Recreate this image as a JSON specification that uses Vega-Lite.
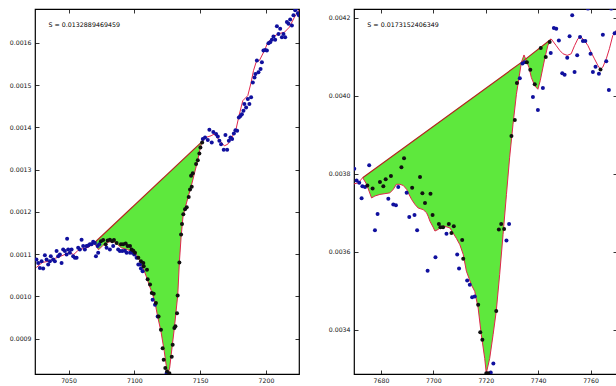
{
 "$schema": "https://vega.github.io/schema/vega-lite/v6.json",
 "padding": {"left": 0, "top": 8, "right": 0, "bottom": 0},
 "spacing": 23,
 "background": "white",
 "config": {
  "view": {"stroke": "#000", "strokeWidth": 1.2},
  "axis": {"labelFont": "DejaVu Sans", "labelFontSize": 6.2, "labelColor": "#111", "tickColor": "#000", "tickSize": -4, "tickWidth": 0.8, "domain": false, "grid": false, "labelFlush": false, "labelOverlap": false, "labelBound": false}
 },
 "datasets": {
  "leftArea": [
   {"x":7069.5,"y":0.001126,"top":0.001126},{"x":7072.8,"y":0.00111,"top":0.0011357},{"x":7076,"y":0.00112,"top":0.001145},{"x":7080,"y":0.001128,"top":0.0011568},{"x":7084,"y":0.00113,"top":0.0011685},{"x":7087,"y":0.001123,"top":0.0011773},{"x":7090,"y":0.001115,"top":0.0011861},{"x":7095,"y":0.00111,"top":0.0012007},{"x":7100,"y":0.001104,"top":0.0012154},{"x":7103,"y":0.001092,"top":0.0012242},{"x":7105,"y":0.001076,"top":0.00123},{"x":7107.5,"y":0.00106,"top":0.0012373},{"x":7109.5,"y":0.001043,"top":0.0012432},{"x":7112,"y":0.00102,"top":0.0012505},{"x":7114,"y":0.001004,"top":0.0012564},{"x":7116,"y":0.00098,"top":0.0012622},{"x":7117.7,"y":0.000952,"top":0.0012672},{"x":7120.2,"y":0.000917,"top":0.0012746},{"x":7122.7,"y":0.00087,"top":0.0012819},{"x":7124.5,"y":0.00083,"top":0.0012871},{"x":7125.5,"y":0.000816,"top":0.0012901},{"x":7126.8,"y":0.00083,"top":0.0012939},{"x":7128,"y":0.000862,"top":0.0012974},{"x":7130.4,"y":0.000925,"top":0.0013044},{"x":7133,"y":0.001004,"top":0.0013121},{"x":7134.2,"y":0.00108,"top":0.0013156},{"x":7135.5,"y":0.00114,"top":0.0013194},{"x":7137,"y":0.00119,"top":0.0013238},{"x":7139,"y":0.001214,"top":0.0013296},{"x":7141.3,"y":0.00124,"top":0.0013364},{"x":7143,"y":0.001258,"top":0.0013414},{"x":7145.6,"y":0.00129,"top":0.001349},{"x":7148,"y":0.00132,"top":0.001356},{"x":7150,"y":0.00135,"top":0.0013619},{"x":7151.4,"y":0.001366,"top":0.001366}
  ],
  "leftChord": [{"x":7069.5,"y":0.001126},{"x":7151.4,"y":0.001366}],
  "leftCurve": [
   {"x":7025.5,"y":0.001068},{"x":7030,"y":0.00108},{"x":7035,"y":0.001083},{"x":7040,"y":0.00109},{"x":7045,"y":0.001096},{"x":7050,"y":0.001103},{"x":7054,"y":0.001099},{"x":7057,"y":0.001108},{"x":7060,"y":0.001112},{"x":7065,"y":0.001116},{"x":7069.5,"y":0.001126},{"x":7072.8,"y":0.00111},{"x":7076,"y":0.00112},{"x":7080,"y":0.001128},{"x":7084,"y":0.00113},{"x":7087,"y":0.001123},{"x":7090,"y":0.001115},{"x":7095,"y":0.00111},{"x":7100,"y":0.001104},{"x":7103,"y":0.001092},{"x":7105,"y":0.001076},{"x":7107.5,"y":0.00106},{"x":7109.5,"y":0.001043},{"x":7112,"y":0.00102},{"x":7114,"y":0.001004},{"x":7116,"y":0.00098},{"x":7117.7,"y":0.000952},{"x":7120.2,"y":0.000917},{"x":7122.7,"y":0.00087},{"x":7124.5,"y":0.00083},{"x":7125.5,"y":0.000816},{"x":7126.8,"y":0.00083},{"x":7128,"y":0.000862},{"x":7130.4,"y":0.000925},{"x":7133,"y":0.001004},{"x":7134.2,"y":0.00108},{"x":7135.5,"y":0.00114},{"x":7137,"y":0.00119},{"x":7139,"y":0.001214},{"x":7141.3,"y":0.00124},{"x":7143,"y":0.001258},{"x":7145.6,"y":0.00129},{"x":7148,"y":0.00132},{"x":7150,"y":0.00135},{"x":7151.4,"y":0.001366},{"x":7154.5,"y":0.001376},{"x":7158.3,"y":0.00138},{"x":7160.8,"y":0.001384},{"x":7164,"y":0.001372},{"x":7168.4,"y":0.001356},{"x":7171,"y":0.00136},{"x":7173.5,"y":0.001372},{"x":7177.3,"y":0.001396},{"x":7179.8,"y":0.001431},{"x":7182.4,"y":0.001463},{"x":7186.2,"y":0.001475},{"x":7188.7,"y":0.001506},{"x":7190.5,"y":0.001534},{"x":7192.5,"y":0.001554},{"x":7195,"y":0.001558},{"x":7198.9,"y":0.001582},{"x":7201.4,"y":0.001601},{"x":7205.2,"y":0.001613},{"x":7209,"y":0.001621},{"x":7214,"y":0.001625},{"x":7217.8,"y":0.001637},{"x":7221.7,"y":0.001661},{"x":7225,"y":0.001677}
  ],
  "leftBlue": [
   {"x":7025.6,"y":0.001087},{"x":7026.9,"y":0.001079},{"x":7028.2,"y":0.001067},{"x":7029.5,"y":0.001083},{"x":7030.7,"y":0.001066},{"x":7032,"y":0.001097},{"x":7033.3,"y":0.001087},{"x":7034.5,"y":0.001075},{"x":7035.8,"y":0.001083},{"x":7036.5,"y":0.001095},{"x":7038.3,"y":0.001087},{"x":7039.6,"y":0.001083},{"x":7040.9,"y":0.001107},{"x":7042.1,"y":0.001095},{"x":7043.4,"y":0.001099},{"x":7044.7,"y":0.001079},{"x":7045.9,"y":0.001111},{"x":7047.2,"y":0.001107},{"x":7048.5,"y":0.001099},{"x":7048.9,"y":0.001136},{"x":7049.7,"y":0.001111},{"x":7051,"y":0.001103},{"x":7052.3,"y":0.001111},{"x":7053.5,"y":0.001095},{"x":7054.8,"y":0.001091},{"x":7056.1,"y":0.001091},{"x":7057.3,"y":0.001115},{"x":7058.6,"y":0.001111},{"x":7059.9,"y":0.001134},{"x":7061.1,"y":0.001119},{"x":7062.4,"y":0.001111},{"x":7063.7,"y":0.001119},{"x":7064.9,"y":0.00112},{"x":7066.2,"y":0.001123},{"x":7067.5,"y":0.001123},{"x":7068.7,"y":0.001129},{"x":7070,"y":0.001126},{"x":7070.8,"y":0.001095},{"x":7072.1,"y":0.001119},{"x":7072.5,"y":0.001103},{"x":7073.3,"y":0.001123},
   {"x":7078.9,"y":0.001115},{"x":7081.4,"y":0.001111},{"x":7083.9,"y":0.001119},{"x":7087.7,"y":0.001111},{"x":7089,"y":0.001107},{"x":7090.8,"y":0.001107},{"x":7092.8,"y":0.001108},{"x":7094.1,"y":0.001103},{"x":7096.7,"y":0.001103},{"x":7098.4,"y":0.001103},{"x":7099.9,"y":0.001099},{"x":7101.7,"y":0.001091},{"x":7103,"y":0.001075},{"x":7104.3,"y":0.001075},{"x":7105,"y":0.001066},{"x":7106.3,"y":0.001059},{"x":7113.9,"y":0.000992},{"x":7115.7,"y":0.00098},{"x":7117.7,"y":0.000952},{"x":7124.5,"y":0.000818},
   {"x":7152,"y":0.001372},{"x":7153.7,"y":0.001376},{"x":7155.8,"y":0.00137},{"x":7157,"y":0.001394},{"x":7158.8,"y":0.001364},{"x":7160,"y":0.001389},{"x":7162.1,"y":0.001384},{"x":7163.4,"y":0.001378},{"x":7164.6,"y":0.001368},{"x":7165.9,"y":0.00136},{"x":7167.9,"y":0.001347},{"x":7169.2,"y":0.001382},{"x":7170.5,"y":0.001347},{"x":7171.8,"y":0.001368},{"x":7173,"y":0.001376},{"x":7174.3,"y":0.001372},{"x":7175.6,"y":0.001385},{"x":7176.8,"y":0.001393},{"x":7178.1,"y":0.001392},{"x":7179.4,"y":0.001423},{"x":7180.6,"y":0.001427},{"x":7181.7,"y":0.001431},{"x":7182.9,"y":0.001439},{"x":7183.6,"y":0.001455},{"x":7184.9,"y":0.001447},{"x":7186.2,"y":0.001467},{"x":7187.4,"y":0.001455},{"x":7188.7,"y":0.001471},{"x":7190,"y":0.001506},{"x":7191.3,"y":0.001518},{"x":7192,"y":0.001526},{"x":7193.1,"y":0.001558},{"x":7194.3,"y":0.00153},{"x":7195.9,"y":0.001538},{"x":7196.9,"y":0.001554},{"x":7198.1,"y":0.001582},{"x":7199.4,"y":0.001583},{"x":7200.7,"y":0.001582},{"x":7201.9,"y":0.001599},{"x":7203.2,"y":0.001601},{"x":7204.5,"y":0.001607},{"x":7205.7,"y":0.001615},{"x":7207,"y":0.001607},{"x":7208.3,"y":0.001639},{"x":7209.5,"y":0.001621},{"x":7210.8,"y":0.001633},{"x":7212.1,"y":0.001613},{"x":7213.3,"y":0.001621},{"x":7214.6,"y":0.001613},{"x":7215.9,"y":0.001649},{"x":7217.1,"y":0.001645},{"x":7218.4,"y":0.001655},{"x":7219.7,"y":0.001641},{"x":7220.9,"y":0.001665},{"x":7222.2,"y":0.001677},{"x":7223,"y":0.001681},{"x":7224.3,"y":0.00167},{"x":7225,"y":0.001665}
  ],
  "leftBlack": [
   {"x":7074.6,"y":0.00113},{"x":7076.3,"y":0.001133},{"x":7078.2,"y":0.001123},{"x":7079.7,"y":0.001132},{"x":7081.4,"y":0.001134},{"x":7083.2,"y":0.00113},{"x":7084.5,"y":0.001133},{"x":7086.5,"y":0.001126},{"x":7089.8,"y":0.001123},{"x":7091.5,"y":0.001123},{"x":7093.4,"y":0.001125},{"x":7094.9,"y":0.001119},{"x":7096.7,"y":0.001119},{"x":7097.9,"y":0.001111},{"x":7099.2,"y":0.001108},{"x":7100.5,"y":0.001103},{"x":7103,"y":0.001091},{"x":7105,"y":0.001083},{"x":7106.8,"y":0.001079},{"x":7107.1,"y":0.001071},{"x":7109.6,"y":0.001063},{"x":7110.1,"y":0.00104},{"x":7111.9,"y":0.001028},{"x":7113.2,"y":0.001008},{"x":7114.7,"y":0.001006},{"x":7116.4,"y":0.000984},{"x":7118.4,"y":0.000952},{"x":7120.2,"y":0.000921},{"x":7121.5,"y":0.000877},{"x":7122.3,"y":0.00085},{"x":7123.5,"y":0.00083},{"x":7124.8,"y":0.000822},{"x":7126.6,"y":0.000818},{"x":7128.4,"y":0.000857},{"x":7129.1,"y":0.000885},{"x":7130.4,"y":0.000925},{"x":7131.2,"y":0.000929},{"x":7132.4,"y":0.00096},{"x":7132.9,"y":0.001002},{"x":7134.2,"y":0.00108},{"x":7135.5,"y":0.001146},{"x":7136.2,"y":0.001171},{"x":7137.2,"y":0.001194},{"x":7138.5,"y":0.001206},{"x":7139.8,"y":0.001211},{"x":7141.3,"y":0.001235},{"x":7142.3,"y":0.001253},{"x":7143.1,"y":0.001285},{"x":7143.6,"y":0.001259},{"x":7144.4,"y":0.001291},{"x":7146.9,"y":0.001313},{"x":7148.2,"y":0.001322},{"x":7149.4,"y":0.001338},{"x":7150.2,"y":0.001352},{"x":7151.5,"y":0.001364}
  ],
  "rightArea": [
   {"x":7673,"y":0.00379,"top":0.00379},{"x":7674.5,"y":0.003773,"top":0.0037973},{"x":7676.4,"y":0.003738,"top":0.0038066},{"x":7677.7,"y":0.003743,"top":0.003813},{"x":7679.6,"y":0.003747,"top":0.0038222},{"x":7681.5,"y":0.003749,"top":0.0038315},{"x":7683.4,"y":0.003751,"top":0.0038408},{"x":7684.7,"y":0.00376,"top":0.0038471},{"x":7685.9,"y":0.003773,"top":0.003853},{"x":7687.2,"y":0.003773,"top":0.0038594},{"x":7688.5,"y":0.00377,"top":0.0038657},{"x":7689.8,"y":0.00376,"top":0.0038721},{"x":7690.4,"y":0.003751,"top":0.003875},{"x":7691.7,"y":0.003734,"top":0.0038813},{"x":7693,"y":0.003721,"top":0.0038877},{"x":7694.2,"y":0.003712,"top":0.0038935},{"x":7696.1,"y":0.003708,"top":0.0039028},{"x":7697.4,"y":0.0037,"top":0.0039092},{"x":7698,"y":0.003691,"top":0.0039121},{"x":7698.7,"y":0.003678,"top":0.0039155},{"x":7699.9,"y":0.003663,"top":0.0039214},{"x":7700.6,"y":0.003653,"top":0.0039248},{"x":7701.8,"y":0.003657,"top":0.0039307},{"x":7703.1,"y":0.003665,"top":0.003937},{"x":7704.4,"y":0.003665,"top":0.0039434},{"x":7706.3,"y":0.003661,"top":0.0039526},{"x":7707.5,"y":0.003648,"top":0.0039585},{"x":7708.8,"y":0.003634,"top":0.0039648},{"x":7710.1,"y":0.003618,"top":0.0039712},{"x":7711.4,"y":0.003593,"top":0.0039775},{"x":7712.6,"y":0.00355,"top":0.0039834},{"x":7714.5,"y":0.003515,"top":0.0039927},{"x":7715.8,"y":0.003498,"top":0.003999},{"x":7717.1,"y":0.003455,"top":0.0040054},{"x":7718.3,"y":0.003387,"top":0.0040112},{"x":7719.6,"y":0.003326,"top":0.0040176},{"x":7720.2,"y":0.003288,"top":0.0040205},{"x":7721.5,"y":0.003326,"top":0.0040269},{"x":7722.8,"y":0.003387,"top":0.0040332},{"x":7724,"y":0.003447,"top":0.0040391},{"x":7725.3,"y":0.003541,"top":0.0040454},{"x":7726.6,"y":0.003644,"top":0.0040518},{"x":7727.9,"y":0.003747,"top":0.0040581},{"x":7729.1,"y":0.003841,"top":0.004064},{"x":7730.4,"y":0.003927,"top":0.0040703},{"x":7731.7,"y":0.004004,"top":0.0040767},{"x":7732.7,"y":0.004047,"top":0.0040816},{"x":7733.6,"y":0.004086,"top":0.004086},{"x":7734.6,"y":0.004105,"top":0.0040913},{"x":7735.5,"y":0.00409,"top":0.004096},{"x":7736.5,"y":0.004073,"top":0.0041013},{"x":7737.4,"y":0.004047,"top":0.004106},{"x":7738.7,"y":0.004026,"top":0.0041128},{"x":7739.9,"y":0.004017,"top":0.0041192},{"x":7740.8,"y":0.004039,"top":0.0041239},{"x":7742.5,"y":0.004095,"top":0.0041328},{"x":7743.7,"y":0.004129,"top":0.0041392},{"x":7745,"y":0.004146,"top":0.004146}
  ],
  "rightChord": [{"x":7673,"y":0.00379},{"x":7733.6,"y":0.004086},{"x":7745,"y":0.004146}],
  "rightCurve": [
   {"x":7669.7,"y":0.003774},{"x":7671.4,"y":0.003777},{"x":7673,"y":0.00379},{"x":7674.5,"y":0.003773},{"x":7676.4,"y":0.003738},{"x":7677.7,"y":0.003743},{"x":7679.6,"y":0.003747},{"x":7681.5,"y":0.003749},{"x":7683.4,"y":0.003751},{"x":7684.7,"y":0.00376},{"x":7685.9,"y":0.003773},{"x":7687.2,"y":0.003773},{"x":7688.5,"y":0.00377},{"x":7689.8,"y":0.00376},{"x":7690.4,"y":0.003751},{"x":7691.7,"y":0.003734},{"x":7693,"y":0.003721},{"x":7694.2,"y":0.003712},{"x":7696.1,"y":0.003708},{"x":7697.4,"y":0.0037},{"x":7698,"y":0.003691},{"x":7698.7,"y":0.003678},{"x":7699.9,"y":0.003663},{"x":7700.6,"y":0.003653},{"x":7701.8,"y":0.003657},{"x":7703.1,"y":0.003665},{"x":7704.4,"y":0.003665},{"x":7706.3,"y":0.003661},{"x":7707.5,"y":0.003648},{"x":7708.8,"y":0.003634},{"x":7710.1,"y":0.003618},{"x":7711.4,"y":0.003593},{"x":7712.6,"y":0.00355},{"x":7714.5,"y":0.003515},{"x":7715.8,"y":0.003498},{"x":7717.1,"y":0.003455},{"x":7718.3,"y":0.003387},{"x":7719.6,"y":0.003326},{"x":7720.2,"y":0.003288},{"x":7721.5,"y":0.003326},{"x":7722.8,"y":0.003387},{"x":7724,"y":0.003447},{"x":7725.3,"y":0.003541},{"x":7726.6,"y":0.003644},{"x":7727.9,"y":0.003747},{"x":7729.1,"y":0.003841},{"x":7730.4,"y":0.003927},{"x":7731.7,"y":0.004004},{"x":7732.7,"y":0.004047},{"x":7733.6,"y":0.004086},{"x":7734.6,"y":0.004105},{"x":7735.5,"y":0.00409},{"x":7736.5,"y":0.004073},{"x":7737.4,"y":0.004047},{"x":7738.7,"y":0.004026},{"x":7739.9,"y":0.004017},{"x":7740.8,"y":0.004039},{"x":7742.5,"y":0.004095},{"x":7743.7,"y":0.004129},{"x":7745,"y":0.004146},{"x":7746.9,"y":0.004129},{"x":7748.2,"y":0.004117},{"x":7749.5,"y":0.004108},{"x":7751.1,"y":0.004104},{"x":7752.6,"y":0.004108},{"x":7753.9,"y":0.004129},{"x":7755.2,"y":0.004147},{"x":7756.4,"y":0.004151},{"x":7757.7,"y":0.004142},{"x":7759,"y":0.004129},{"x":7760.2,"y":0.004112},{"x":7761.5,"y":0.004095},{"x":7762.8,"y":0.004078},{"x":7763.8,"y":0.004068},{"x":7764.7,"y":0.004074},{"x":7766,"y":0.004095},{"x":7767.2,"y":0.004121},{"x":7768.5,"y":0.004155},{"x":7769.8,"y":0.004168},{"x":7770.6,"y":0.004181}
  ],
  "rightBlue": [
   {"x":7669.8,"y":0.003813},{"x":7670.7,"y":0.003783},{"x":7671.7,"y":0.003777},{"x":7672.9,"y":0.003768},{"x":7673.9,"y":0.003766},{"x":7675.5,"y":0.003822},{"x":7672.6,"y":0.003737},{"x":7677.7,"y":0.003655},{"x":7678.7,"y":0.003697},{"x":7682.8,"y":0.003736},{"x":7684.7,"y":0.003721},{"x":7685.7,"y":0.003719},{"x":7686.6,"y":0.003766},{"x":7689.8,"y":0.003751},{"x":7690.8,"y":0.003689},{"x":7692.8,"y":0.003694},{"x":7693.8,"y":0.003655},{"x":7697.8,"y":0.003551},{"x":7700.8,"y":0.003586},{"x":7705,"y":0.003646},{"x":7709.1,"y":0.003593},{"x":7709.8,"y":0.003557},{"x":7712.9,"y":0.003526},{"x":7713.9,"y":0.003515},{"x":7714.8,"y":0.003483},{"x":7715.8,"y":0.003485},{"x":7721.9,"y":0.00329},{"x":7722.9,"y":0.003313},{"x":7727.9,"y":0.003629},{"x":7728.9,"y":0.003671},{"x":7733,"y":0.004045},{"x":7734,"y":0.004083},{"x":7734.9,"y":0.004086},{"x":7738,"y":0.003997},{"x":7739.9,"y":0.003964},{"x":7741.8,"y":0.00402},{"x":7744.8,"y":0.00411},{"x":7746,"y":0.004174},{"x":7746.9,"y":0.004172},{"x":7747.9,"y":0.004142},{"x":7749.2,"y":0.004058},{"x":7750.1,"y":0.004054},{"x":7751.1,"y":0.004098},{"x":7752,"y":0.004153},{"x":7753,"y":0.004207},{"x":7753.9,"y":0.004061},{"x":7754.9,"y":0.004104},{"x":7756,"y":0.004151},{"x":7757.1,"y":0.004141},{"x":7758,"y":0.004141},{"x":7759,"y":0.004224},{"x":7760,"y":0.004108},{"x":7760.9,"y":0.004061},{"x":7761.9,"y":0.004075},{"x":7763.2,"y":0.004057},{"x":7764.7,"y":0.004157},{"x":7766,"y":0.004089},{"x":7767,"y":0.004015},{"x":7767.9,"y":0.004224},{"x":7769.2,"y":0.004161},{"x":7770.2,"y":0.004164}
  ],
  "rightBlack": [
   {"x":7674.8,"y":0.00377},{"x":7676.8,"y":0.003762},{"x":7679.6,"y":0.003779},{"x":7680.9,"y":0.003768},{"x":7681.8,"y":0.003786},{"x":7683.8,"y":0.003794},{"x":7687.8,"y":0.003817},{"x":7688.8,"y":0.00384},{"x":7691.9,"y":0.003764},{"x":7694.9,"y":0.003792},{"x":7695.8,"y":0.00375},{"x":7696.8,"y":0.003725},{"x":7698.9,"y":0.003749},{"x":7699.7,"y":0.003694},{"x":7702.1,"y":0.003671},{"x":7702.7,"y":0.003663},{"x":7703.7,"y":0.003663},{"x":7705.9,"y":0.003671},{"x":7706.9,"y":0.003648},{"x":7707.8,"y":0.003665},{"x":7711,"y":0.00363},{"x":7711.4,"y":0.003582},{"x":7717.1,"y":0.003464},{"x":7717.9,"y":0.003393},{"x":7718.7,"y":0.003374},{"x":7720.2,"y":0.003288},{"x":7720.9,"y":0.003288},{"x":7724,"y":0.003448},{"x":7725,"y":0.003657},{"x":7725.9,"y":0.003671},{"x":7727,"y":0.003658},{"x":7729.8,"y":0.003897},{"x":7731.1,"y":0.003938},{"x":7731.9,"y":0.004033},{"x":7735.7,"y":0.004086},{"x":7737,"y":0.004067},{"x":7738.7,"y":0.00403},{"x":7741,"y":0.004123},{"x":7742.9,"y":0.0041},{"x":7744.4,"y":0.004138},{"x":7763.8,"y":0.004068}
  ]
 },
 "hconcat": [
  {
   "width": 264, "height": 365,
   "layer": [
    {"data": {"name": "leftArea"}, "mark": {"type": "area", "color": "#5ee83d", "opacity": 1, "clip": true},
     "encoding": {
      "x": {"field": "x", "type": "quantitative", "scale": {"domain": [7024.5, 7225.1], "nice": false, "zero": false}, "axis": {"orient": "bottom", "values": [7050, 7100, 7150, 7200], "format": "d", "title": null, "labelPadding": 7.5}},
      "y": {"field": "y", "type": "quantitative", "scale": {"domain": [0.000816, 0.00168], "nice": false, "zero": false}, "axis": {"orient": "left", "values": [0.0009, 0.001, 0.0011, 0.0012, 0.0013, 0.0014, 0.0015, 0.0016], "format": ".4f", "title": null, "labelPadding": 8, "minExtent": 34, "maxExtent": 34}},
      "y2": {"field": "top"}}},
    {"data": {"name": "leftChord"}, "mark": {"type": "line", "color": "#b3261e", "strokeWidth": 1.2, "clip": true},
     "encoding": {
      "x": {"field": "x", "type": "quantitative", "scale": {"domain": [7024.5, 7225.1], "nice": false, "zero": false}, "axis": {"orient": "top", "values": [7050, 7100, 7150, 7200], "labels": false, "title": null, "minExtent": 0, "maxExtent": 0}},
      "y": {"field": "y", "type": "quantitative", "scale": {"domain": [0.000816, 0.00168], "nice": false, "zero": false}, "axis": {"orient": "right", "values": [0.0009, 0.001, 0.0011, 0.0012, 0.0013, 0.0014, 0.0015, 0.0016], "labels": false, "title": null, "minExtent": 0, "maxExtent": 0}}}},
    {"data": {"name": "leftCurve"}, "mark": {"type": "line", "color": "#e0264c", "strokeWidth": 1, "clip": true},
     "encoding": {
      "x": {"field": "x", "type": "quantitative", "scale": {"domain": [7024.5, 7225.1], "nice": false, "zero": false}, "axis": null},
      "y": {"field": "y", "type": "quantitative", "scale": {"domain": [0.000816, 0.00168], "nice": false, "zero": false}, "axis": null}}},
    {"data": {"name": "leftBlue"}, "mark": {"type": "circle", "size": 16, "color": "#10109e", "opacity": 1, "clip": true},
     "encoding": {
      "x": {"field": "x", "type": "quantitative", "scale": {"domain": [7024.5, 7225.1], "nice": false, "zero": false}, "axis": null},
      "y": {"field": "y", "type": "quantitative", "scale": {"domain": [0.000816, 0.00168], "nice": false, "zero": false}, "axis": null}}},
    {"data": {"name": "leftBlack"}, "mark": {"type": "circle", "size": 16, "color": "#111111", "opacity": 1, "clip": true},
     "encoding": {
      "x": {"field": "x", "type": "quantitative", "scale": {"domain": [7024.5, 7225.1], "nice": false, "zero": false}, "axis": null},
      "y": {"field": "y", "type": "quantitative", "scale": {"domain": [0.000816, 0.00168], "nice": false, "zero": false}, "axis": null}}},
    {"data": {"values": [{"label": "S = 0.0132889469459"}]}, "mark": {"type": "text", "align": "left", "baseline": "middle", "font": "DejaVu Sans", "fontSize": 6.3, "color": "#000"},
     "encoding": {
      "text": {"field": "label"},
      "x": {"datum": 7034.8, "type": "quantitative", "scale": {"domain": [7024.5, 7225.1], "nice": false, "zero": false}, "axis": null},
      "y": {"datum": 0.0016428, "type": "quantitative", "scale": {"domain": [0.000816, 0.00168], "nice": false, "zero": false}, "axis": null}}}
   ],
   "resolve": {"axis": {"x": "independent", "y": "independent"}}
  },
  {
   "width": 263, "height": 365,
   "layer": [
    {"data": {"name": "rightArea"}, "mark": {"type": "area", "color": "#5ee83d", "opacity": 1, "clip": true},
     "encoding": {
      "x": {"field": "x", "type": "quantitative", "scale": {"domain": [7669.7, 7770.1], "nice": false, "zero": false}, "axis": {"orient": "bottom", "values": [7680, 7700, 7720, 7740, 7760], "format": "d", "title": null, "labelPadding": 7.5}},
      "y": {"field": "y", "type": "quantitative", "scale": {"domain": [0.003286, 0.004223], "nice": false, "zero": false}, "axis": {"orient": "left", "values": [0.0034, 0.0036, 0.0038, 0.004, 0.0042], "format": ".4f", "title": null, "labelPadding": 8, "minExtent": 30, "maxExtent": 30}},
      "y2": {"field": "top"}}},
    {"data": {"name": "rightChord"}, "mark": {"type": "line", "color": "#b3261e", "strokeWidth": 1.2, "clip": true},
     "encoding": {
      "x": {"field": "x", "type": "quantitative", "scale": {"domain": [7669.7, 7770.1], "nice": false, "zero": false}, "axis": {"orient": "top", "values": [7680, 7700, 7720, 7740, 7760], "labels": false, "title": null, "minExtent": 0, "maxExtent": 0}},
      "y": {"field": "y", "type": "quantitative", "scale": {"domain": [0.003286, 0.004223], "nice": false, "zero": false}, "axis": {"orient": "right", "values": [0.0034, 0.0036, 0.0038, 0.004, 0.0042], "labels": false, "title": null, "minExtent": 0, "maxExtent": 0}}}},
    {"data": {"name": "rightCurve"}, "mark": {"type": "line", "color": "#e0264c", "strokeWidth": 1, "clip": true},
     "encoding": {
      "x": {"field": "x", "type": "quantitative", "scale": {"domain": [7669.7, 7770.1], "nice": false, "zero": false}, "axis": null},
      "y": {"field": "y", "type": "quantitative", "scale": {"domain": [0.003286, 0.004223], "nice": false, "zero": false}, "axis": null}}},
    {"data": {"name": "rightBlue"}, "mark": {"type": "circle", "size": 16, "color": "#10109e", "opacity": 1, "clip": true},
     "encoding": {
      "x": {"field": "x", "type": "quantitative", "scale": {"domain": [7669.7, 7770.1], "nice": false, "zero": false}, "axis": null},
      "y": {"field": "y", "type": "quantitative", "scale": {"domain": [0.003286, 0.004223], "nice": false, "zero": false}, "axis": null}}},
    {"data": {"name": "rightBlack"}, "mark": {"type": "circle", "size": 16, "color": "#111111", "opacity": 1, "clip": true},
     "encoding": {
      "x": {"field": "x", "type": "quantitative", "scale": {"domain": [7669.7, 7770.1], "nice": false, "zero": false}, "axis": null},
      "y": {"field": "y", "type": "quantitative", "scale": {"domain": [0.003286, 0.004223], "nice": false, "zero": false}, "axis": null}}},
    {"data": {"values": [{"label": "S = 0.0173152406349"}]}, "mark": {"type": "text", "align": "left", "baseline": "middle", "font": "DejaVu Sans", "fontSize": 6.3, "color": "#000"},
     "encoding": {
      "text": {"field": "label"},
      "x": {"datum": 7674.8, "type": "quantitative", "scale": {"domain": [7669.7, 7770.1], "nice": false, "zero": false}, "axis": null},
      "y": {"datum": 0.004182, "type": "quantitative", "scale": {"domain": [0.003286, 0.004223], "nice": false, "zero": false}, "axis": null}}}
   ],
   "resolve": {"axis": {"x": "independent", "y": "independent"}}
  }
 ]
}
